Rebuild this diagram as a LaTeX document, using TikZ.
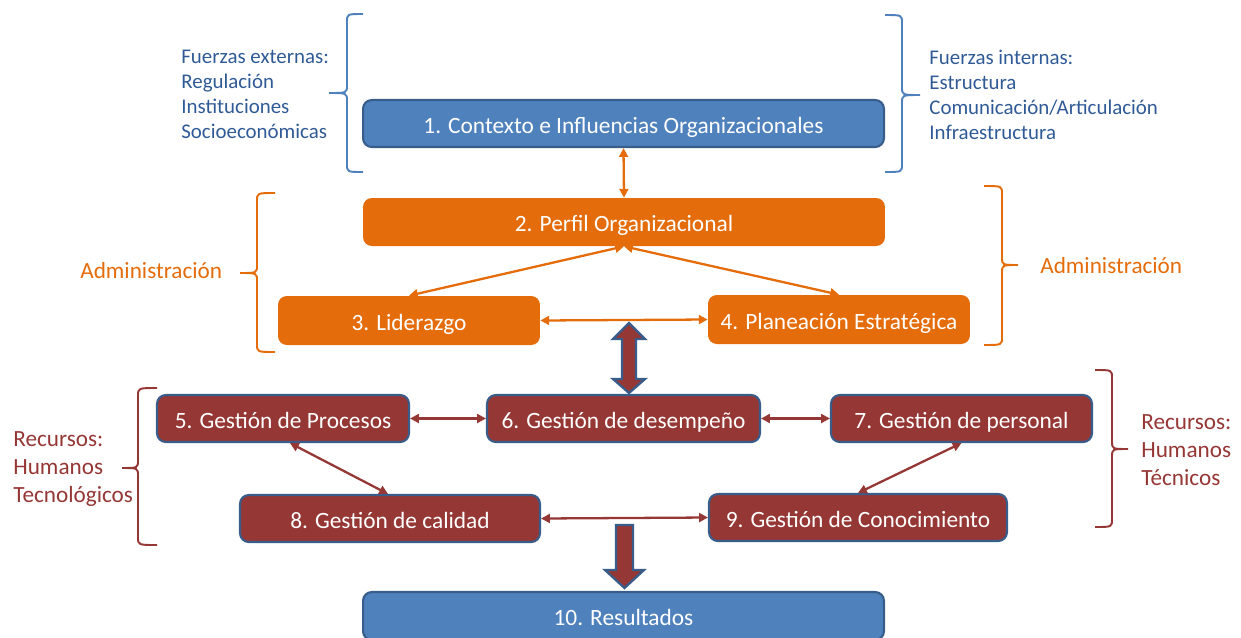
\documentclass[tikz,border=0pt]{standalone}
\usepackage{fontspec}
\setmainfont{Carlito}
\usetikzlibrary{arrows.meta,calc}
\definecolor{boxblue}{HTML}{4F81BD}
\definecolor{edgeblue}{HTML}{385D8A}
\definecolor{txtblue}{HTML}{2F5A96}
\definecolor{admorange}{HTML}{E46C0A}
\definecolor{recred}{HTML}{953735}

\newcommand{\sidebrace}[7]{%
\draw[#1, line width=1.1pt] (#2,#5) .. controls (#3,#5) .. (#3,{#5+8}) -- (#3,{#6-8}) .. controls (#3,#6) .. (#4,#6) .. controls (#3,#6) .. (#3,{#6+8}) -- (#3,{#7-8}) .. controls (#3,#7) .. (#2,#7);}

\begin{document}
\begin{tikzpicture}[x=0.02cm, y=-0.02cm,
  >={Triangle[length=5pt,width=5pt]},
  boxtext/.style={text=white, font=\fontsize{13.3}{16}\selectfont, rounded corners=5pt, inner sep=0pt, text height=11pt, text depth=0pt},
  bluebox/.style={boxtext, fill=boxblue, draw=edgeblue, line width=1.2pt},
  orangebox/.style={boxtext, fill=admorange},
  redbox/.style={boxtext, fill=recred, draw=edgeblue, line width=1.2pt},
  sidetext/.style={align=left, anchor=west, inner sep=0pt, font=\fontsize{11.9}{14.2}\selectfont},
  bigtext/.style={align=left, anchor=west, inner sep=0pt, font=\fontsize{13.2}{15.9}\selectfont},
  orangelink/.style={<->, admorange, line width=1.3pt},
  redlink/.style={<->, recred, line width=1.3pt}]
\useasboundingbox (0,0) rectangle (1241,637);

\node[bluebox, minimum width=10.42cm, minimum height=0.94cm] (b1) at (623.5,123.5) {1. Contexto e Influencias Organizacionales};
\node[orangebox, minimum width=10.44cm, minimum height=0.96cm] (b2) at (624,222) {2. Perfil Organizacional};
\node[orangebox, minimum width=5.24cm, minimum height=0.98cm] (b3) at (409,320.5) {3. Liderazgo};
\node[orangebox, minimum width=5.24cm, minimum height=0.98cm] (b4) at (839,319.5) {4. Planeación Estratégica};
\node[redbox, minimum width=5.04cm, minimum height=0.94cm] (b5) at (283,418.5) {5. Gestión de Procesos};
\node[redbox, minimum width=5.46cm, minimum height=0.94cm] (b6) at (623.5,418.5) {6. Gestión de desempeño};
\node[redbox, minimum width=5.22cm, minimum height=0.94cm] (b7) at (961.5,418.5) {7. Gestión de personal};
\node[redbox, minimum width=6.00cm, minimum height=0.94cm] (b8) at (390,518.5) {8. Gestión de calidad};
\node[redbox, minimum width=5.96cm, minimum height=0.94cm] (b9) at (858,517.5) {9. Gestión de Conocimiento};
\node[bluebox, minimum width=10.42cm, minimum height=0.96cm] (b10) at (623.5,616) {10. Resultados};

\node[sidetext, text=txtblue] (ext) at (181,94.5) {Fuerzas externas:\\Regulación\\Instituciones\\Socioeconómicas};
\node[sidetext, text=txtblue] (int) at (929,94.5) {Fuerzas internas:\\Estructura\\Comunicación/Articulación\\Infraestructura};
\node[bigtext, text=admorange] (admL) at (80,271) {Administración};
\node[bigtext, text=admorange] (admR) at (1040,266) {Administración};
\node[bigtext, text=recred] (recL) at (13,469) {Recursos:\\Humanos\\Tecnológicos};
\node[bigtext, text=recred] (recR) at (1141,450) {Recursos:\\Humanos\\Técnicos};

\sidebrace{boxblue}{363}{347}{329}{14}{93}{172}
\sidebrace{boxblue}{885}{902}{920}{15}{95}{172}
\sidebrace{admorange}{275}{257}{240}{193}{273}{352}
\sidebrace{admorange}{984}{1002}{1018}{186}{265}{345}
\sidebrace{recred}{157}{138}{122}{388}{468}{545}
\sidebrace{recred}{1095}{1112}{1128}{370}{449}{527}

\draw[orangelink] (b1.south) -- (b2.north);
\draw[orangelink] (b2.south) -- (b3.north);
\draw[orangelink] (b2.south) -- (b4.north);
\draw[orangelink] (b3.east) -- (b4.west);
\draw[redlink] (b5.east) -- (b6.west);
\draw[redlink] (b6.east) -- (b7.west);
\draw[redlink] (b8.east) -- (b9.west);
\draw[redlink] ($(b5.south)+(7,0)$) -- ($(b8.north)-(2,0)$);
\draw[redlink] (b7.south) -- (b9.north);

\draw[fill=recred, draw=edgeblue, line width=1.3pt, line join=miter] (629,323) -- (645,339) -- (636,339) -- (636,379) -- (645,379) -- (629,393) -- (613,379) -- (622,379) -- (622,339) -- (613,339) -- cycle;
\draw[fill=recred, draw=edgeblue, line width=1.3pt, line join=miter] (616,525) -- (633,525) -- (633,570) -- (644,570) -- (624.5,588) -- (605,570) -- (616,570) -- cycle;
\end{tikzpicture}
\end{document}
